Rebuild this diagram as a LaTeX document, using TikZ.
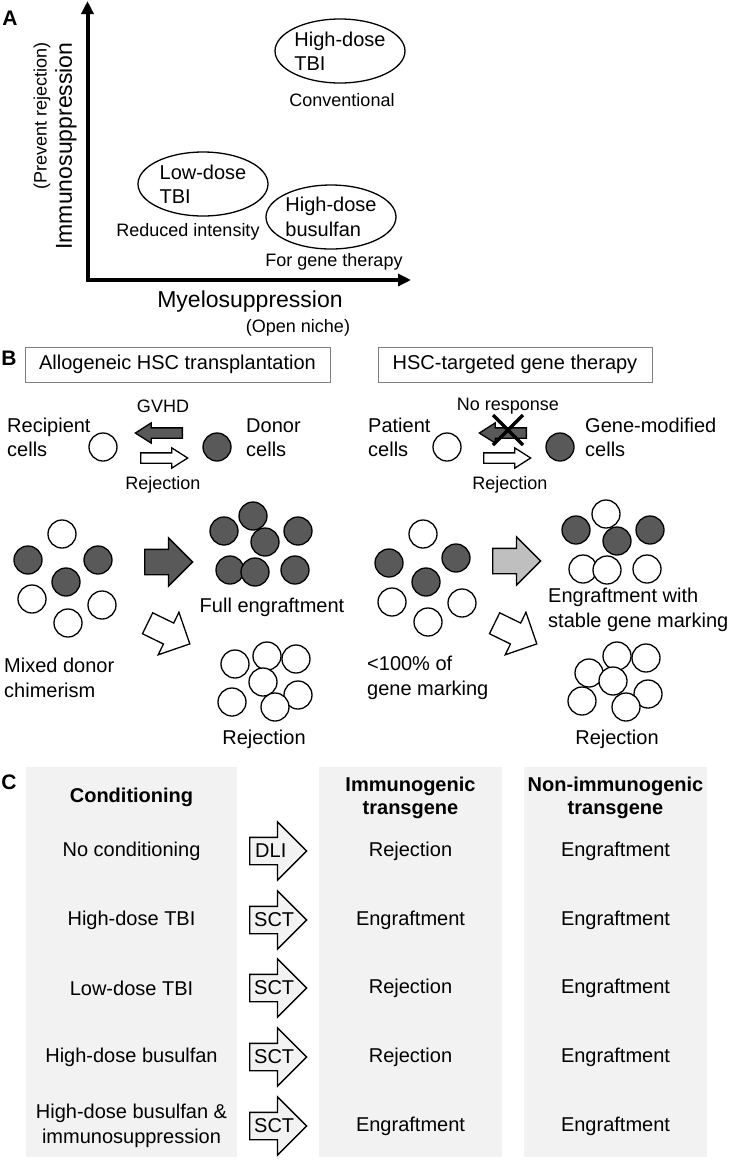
\documentclass[tikz,border=0pt]{standalone}
\usepackage{fontspec}
\setmainfont{Liberation Sans}
\usetikzlibrary{shapes.geometric,shapes.arrows,arrows.meta,positioning}

\definecolor{darkcell}{RGB}{89,89,89}
\definecolor{panelshade}{RGB}{242,242,242}
\definecolor{titleline}{RGB}{128,128,128}
\definecolor{midgray}{RGB}{191,191,191}

\begin{document}
\begin{tikzpicture}[x=1pt,y=-1pt,
  every node/.style={font=\fontsize{20}{24.5}\selectfont,inner sep=0pt},
  small/.style={font=\fontsize{18}{22}\selectfont},
  big/.style={font=\fontsize{23}{28}\selectfont},
  panellabel/.style={font=\fontsize{21}{24}\selectfont\bfseries},
  colhead/.style={font=\fontsize{20}{23}\selectfont\bfseries,align=center},
  regime/.style={draw,ellipse,line width=1.3pt,minimum width=130pt,minimum height=64pt,align=left},
  titlebox/.style={draw=titleline,line width=1pt,minimum height=35pt},
  cell/.style={draw,circle,line width=1.3pt,minimum size=28pt,fill=white},
  donor/.style={cell,fill=darkcell},
  blockarrow/.style={draw,single arrow,line width=1.3pt,minimum width=0pt,inner xsep=0pt,anchor=tail},
  thinarrow/.style={blockarrow,inner ysep=4.5pt,single arrow head extend=5pt,minimum height=47pt,single arrow tip angle=65},
  fatarrow/.style={blockarrow,inner ysep=12pt,single arrow head extend=11.5pt,minimum height=48pt,single arrow tip angle=90},
  steparrow/.style={blockarrow,fill=panelshade,inner ysep=13pt,single arrow head extend=15.5pt,minimum height=57pt,single arrow tip angle=90},
  axis/.style={line width=4pt,{Triangle[length=13pt,width=12pt]}-{Triangle[length=13pt,width=12pt]}}]

  \useasboundingbox (0,0) rectangle (733,1160);

  % A: conditioning regimens
  \node[panellabel] (lblA) at (10,18) {A};
  \coordinate (origin) at (87.5,280);
  \coordinate (ytip) at (87.5,1);
  \coordinate (xtip) at (411,280);
  \draw[axis] (ytip) -- (origin) -- (xtip);

  \node[big,rotate=90] (immuno) at (66,146) {Immunosuppression};
  \node[small,rotate=90] (prevent) at (42,116) {(Prevent rejection)};
  \node[big] (myelo) at (250,302) {Myelosuppression};
  \node[small] (niche) at (298,328) {(Open niche)};

  \node[regime] (hitbi) at (340,51) {High-dose\\TBI};
  \node[small] (conv) at (342,100) {Conventional};
  \node[regime] (lotbi) at (203,184) {Low-dose\\TBI};
  \node[small] (reduced) at (188,232) {Reduced intensity};
  \node[regime] (hibu) at (331,217) {High-dose\\busulfan};
  \node[small] (forgene) at (334,262) {For gene therapy};

  % B: allogeneic vs gene therapy
  \node[panellabel] (lblB) at (9,358) {B};
  \node[titlebox,minimum width=305pt] (allo) at (177.5,364.5) {Allogeneic HSC transplantation};
  \node[titlebox,minimum width=274pt] (gene) at (515,364.5) {HSC-targeted gene therapy};

  \node[align=left,anchor=west] (recip) at (7,437.5) {Recipient\\cells};
  \node[cell] (rc) at (103,447) {};
  \node[thinarrow,fill=darkcell,rotate=180] (gvhd) at (183,433) {};
  \node[thinarrow,fill=white] (rej) at (140,458) {};
  \node[small] (gvhdtxt) at (163,406) {GVHD};
  \node[small] (rejtxt) at (163,485) {Rejection};
  \node[donor] (dc) at (217,447) {};
  \node[align=left,anchor=west] (donortxt) at (246,437.5) {Donor\\cells};

  \node[align=left,anchor=west] (patient) at (368,437.5) {Patient\\cells};
  \node[cell] (pc) at (447,447) {};
  \node[thinarrow,fill=darkcell,rotate=180] (nores) at (527,433) {};
  \draw[line width=3.5pt] (493,415) -- (523,445) (493,445) -- (523,415);
  \node[thinarrow,fill=white] (rej2) at (483,458) {};
  \node[small] (norestxt) at (508,406) {No response};
  \node[small] (rej2txt) at (510,485) {Rejection};
  \node[donor] (gm) at (560,447) {};
  \node[align=left,anchor=west] (gmtxt) at (585,437.5) {Gene-modified\\cells};

  % mixed chimerism -> outcomes
  \node[cell] (m1) at (62,534) {};
  \node[donor] (m2) at (28,560) {};
  \node[donor] (m3) at (98,560) {};
  \node[donor] (m4) at (66,582) {};
  \node[cell] (m5) at (32,599) {};
  \node[cell] (m6) at (102,605) {};
  \node[cell] (m7) at (68,623) {};
  \node[align=left,anchor=west] (mixtxt) at (4,678) {Mixed donor\\chimerism};
  \node[fatarrow,fill=darkcell] (engr) at (144,562) {};
  \node[fatarrow,fill=white,inner ysep=11pt,single arrow head extend=12pt,minimum height=47pt,rotate=-26] (loss) at (147,623) {};

  \node[donor] (f1) at (224,531) {};
  \node[donor] (f2) at (253,516) {};
  \node[donor] (f3) at (265,542) {};
  \node[donor] (f4) at (298,531) {};
  \node[donor] (f5) at (230,570) {};
  \node[donor] (f6) at (255,572) {};
  \node[donor] (f7) at (295,570) {};
  \node (fulltxt) at (272,607) {Full engraftment};

  \node[cell] (r1) at (235,664) {};
  \node[cell] (r2) at (267,656) {};
  \node[cell] (r3) at (296,659) {};
  \node[cell] (r4) at (263,682) {};
  \node[cell] (r5) at (232,702) {};
  \node[cell] (r6) at (298,695) {};
  \node[cell] (r7) at (275,707) {};
  \node (rtxt) at (264,739) {Rejection};

  \node[cell] (g1) at (423,534) {};
  \node[donor] (g2) at (389,563) {};
  \node[donor] (g3) at (456,558) {};
  \node[donor] (g4) at (426,582) {};
  \node[cell] (g5) at (392,602) {};
  \node[cell] (g6) at (462,603) {};
  \node[cell] (g7) at (428,622) {};
  \node[align=left,anchor=west] (marktxt) at (367,678) {<100\% of\\gene marking};
  \node[fatarrow,fill=midgray] (stable) at (492,561) {};
  \node[fatarrow,fill=white,inner ysep=11pt,single arrow head extend=12pt,minimum height=47pt,rotate=-26] (loss2) at (494,623) {};

  \node[donor] (s1) at (576,530) {};
  \node[cell] (s2) at (606,514) {};
  \node[donor] (s3) at (617,541) {};
  \node[donor] (s4) at (650,530) {};
  \node[cell] (s5) at (583,569) {};
  \node[cell] (s6) at (607,570) {};
  \node[cell] (s7) at (647,569) {};
  \node[align=left,anchor=west] (stabletxt) at (548,610) {Engraftment with\\stable gene marking};

  \node[cell] (q1) at (589,673) {};
  \node[cell] (q2) at (617,656) {};
  \node[cell] (q3) at (646,658) {};
  \node[cell] (q4) at (613,681) {};
  \node[cell] (q5) at (582,701) {};
  \node[cell] (q6) at (648,694) {};
  \node[cell] (q7) at (626,707) {};
  \node (qtxt) at (617,739) {Rejection};

  % C: outcome table
  \node[panellabel] (lblC) at (9,782) {C};
  \fill[panelshade] (26,767) rectangle (237,1157);
  \fill[panelshade] (319,767) rectangle (502,1157);
  \fill[panelshade] (524,767) rectangle (707,1157);

  \node[colhead] (condhd) at (131.5,797) {Conditioning};
  \node[colhead] (immhd) at (410.5,797.5) {Immunogenic\\transgene};
  \node[colhead] (nonhd) at (615.5,797.5) {Non-immunogenic\\transgene};

  \node (cond1) at (131.5,851) {No conditioning};
  \node[steparrow] (arr1) at (249,851) {};
  \node[right=6pt of arr1.tail] (via1) {DLI};
  \node (imm1) at (410.5,851) {Rejection};
  \node (non1) at (615.5,851) {Engraftment};

  \node (cond2) at (131.5,920) {High-dose TBI};
  \node[steparrow] (arr2) at (249,920) {};
  \node[right=5pt of arr2.tail] (via2) {SCT};
  \node (imm2) at (410.5,920) {Engraftment};
  \node (non2) at (615.5,920) {Engraftment};

  \node (cond3) at (131.5,988) {Low-dose TBI};
  \node[steparrow] (arr3) at (249,988) {};
  \node[right=5pt of arr3.tail] (via3) {SCT};
  \node (imm3) at (410.5,988) {Rejection};
  \node (non3) at (615.5,988) {Engraftment};

  \node (cond4) at (131.5,1057) {High-dose busulfan};
  \node[steparrow] (arr4) at (249,1057) {};
  \node[right=5pt of arr4.tail] (via4) {SCT};
  \node (imm4) at (410.5,1057) {Rejection};
  \node (non4) at (615.5,1057) {Engraftment};

  \node[align=center] (cond5) at (131.5,1126) {High-dose busulfan \&\\immunosuppression};
  \node[steparrow] (arr5) at (249,1126) {};
  \node[right=5pt of arr5.tail] (via5) {SCT};
  \node (imm5) at (410.5,1126) {Engraftment};
  \node (non5) at (615.5,1126) {Engraftment};
\end{tikzpicture}
\end{document}
